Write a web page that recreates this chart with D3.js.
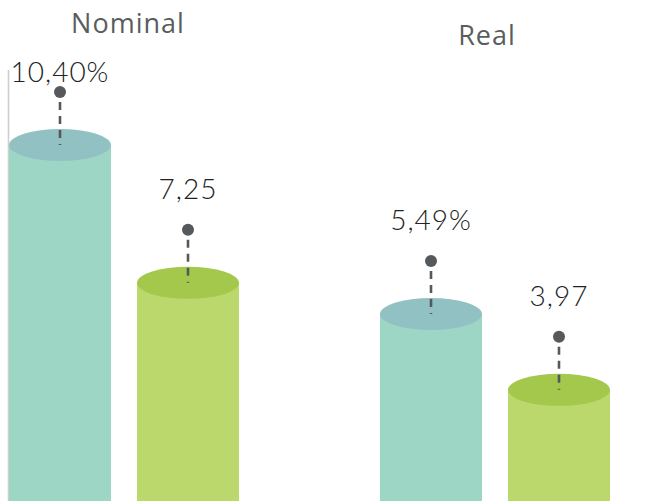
<!DOCTYPE html>
<html>
<head>
<meta charset="utf-8">
<script src="https://cdn.jsdelivr.net/npm/d3@7/dist/d3.min.js"></script>
<style>
  html, body { margin: 0; padding: 0; background: #fff; }
  svg { display: block; }
  .title { fill: #5a5d5e; font-family: "Open Sans", Lato, sans-serif; font-size: 27px; font-weight: 400; letter-spacing: 1px; }
  .value { fill: #222; font-family: Lato, "Open Sans", sans-serif; font-size: 28px; font-weight: 300; letter-spacing: 1px; }
</style>
</head>
<body>
<svg id="chart" width="646" height="501"></svg>
<script>
(function () {
  'use strict';

  // groups and series
  const GROUPS = ['Nominal', 'Real'];
  const SERIES = ['a', 'b'];
  const NOMINAL_VALUES = [10.40, 7.25];
  const REAL_VALUES = [5.49, 3.97];
  const VALUE_LABELS = [['10,40%', '7,25'], ['5,49%', '3,97']];

  const BODY = ['#9ed6c6', '#bad86b'];
  const TOP = ['#92c1c4', '#a3c84c'];

  const W = 646, H = 501;
  const svg = d3.select('#chart');

  // each group is drawn on its own vertical scale (the original is not to one scale)
  const yScales = {
    Nominal: d3.scaleLinear().domain([0, 10.40]).range([600, 145]),
    Real: d3.scaleLinear().domain([0, 5.49]).range([588, 314])
  };
  const titleY = { Nominal: 33, Real: 45 };
  const titleDx = { Nominal: 4, Real: -8 };

  const xGroup = d3.scalePoint().domain(GROUPS).range([124, 495]);
  const xSeries = d3.scaleBand().domain(SERIES).range([-115, 115])
    .paddingInner(0.203).paddingOuter(0);

  const rows = [];
  GROUPS.forEach((g, gi) => {
    const vals = gi === 0 ? NOMINAL_VALUES : REAL_VALUES;
    SERIES.forEach((s, si) => {
      rows.push({ group: g, series: s, si, value: vals[si], label: VALUE_LABELS[gi][si] });
    });
  });

  // thin axis line on the left
  svg.append('line')
    .attr('x1', 8.5).attr('x2', 8.5).attr('y1', 70).attr('y2', H)
    .attr('stroke', '#cfcfcf').attr('stroke-width', 1.6);

  const bw = xSeries.bandwidth();
  const ry = 16;

  const bars = svg.append('g').selectAll('g.bar')
    .data(rows)
    .join('g')
    .attr('class', 'bar')
    .attr('transform', d => `translate(${xGroup(d.group) + xSeries(d.series)},0)`);

  bars.append('rect')
    .attr('x', 0)
    .attr('y', d => yScales[d.group](d.value))
    .attr('width', bw)
    .attr('height', d => H - yScales[d.group](d.value))
    .attr('fill', d => BODY[d.si]);

  bars.append('ellipse')
    .attr('cx', bw / 2)
    .attr('cy', d => yScales[d.group](d.value))
    .attr('rx', bw / 2)
    .attr('ry', ry)
    .attr('fill', d => TOP[d.si]);

  // leader: dot + dashed line down to the lid
  bars.append('line')
    .attr('x1', bw / 2).attr('x2', bw / 2)
    .attr('y1', d => yScales[d.group](d.value) - 53 + 10)
    .attr('y2', d => yScales[d.group](d.value))
    .attr('stroke', '#55595b')
    .attr('stroke-width', 2.6)
    .attr('stroke-dasharray', '8,6');

  bars.append('circle')
    .attr('cx', bw / 2)
    .attr('cy', d => yScales[d.group](d.value) - 53)
    .attr('r', 6)
    .attr('fill', '#55595b');

  bars.append('text')
    .attr('class', 'value')
    .attr('x', bw / 2)
    .attr('y', d => Math.max(yScales[d.group](d.value) - 84, 82))
    .attr('text-anchor', 'middle')
    .text(d => d.label);

  svg.append('g').selectAll('text.title')
    .data(GROUPS)
    .join('text')
    .attr('class', 'title')
    .attr('x', d => xGroup(d) + titleDx[d])
    .attr('y', d => titleY[d])
    .attr('text-anchor', 'middle')
    .text(d => d);
})();
</script>
</body>
</html>
